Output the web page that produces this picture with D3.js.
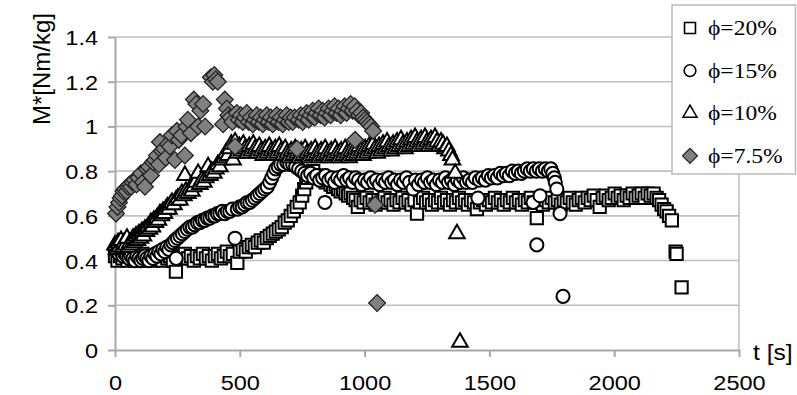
<!DOCTYPE html>
<html>
<head>
<meta charset="utf-8">
<script src="https://cdnjs.cloudflare.com/ajax/libs/d3/7.8.5/d3.min.js"></script>
<style>
  body { margin: 0; background: #fff; }
  svg { display: block; }
</style>
</head>
<body>
<svg id="chart" width="797" height="395"></svg>
<script>
// values: [t (s), M* (Nm/kg)]
const phi20 = [
  [0,0.42],[10,0.40],[20,0.42],[30,0.41],[40,0.43],[50,0.40],[60,0.42],[70,0.41],[80,0.40],[90,0.42],
  [100,0.41],[110,0.43],[120,0.40],[130,0.42],[140,0.41],[150,0.40],[160,0.42],[170,0.41],[180,0.43],[190,0.40],
  [200,0.42],[210,0.41],[220,0.42],[232,0.40],[244,0.35],[256,0.42],[268,0.41],[280,0.43],[292,0.41],[304,0.42],
  [316,0.40],[328,0.42],[340,0.41],[352,0.43],[364,0.41],[376,0.42],[388,0.40],[400,0.42],[412,0.43],[424,0.41],
  [436,0.42],[448,0.44],[460,0.42],[472,0.43],[490,0.39],[500,0.44],[512,0.45],[524,0.44],[536,0.46],[548,0.47],
  [560,0.46],[572,0.48],[584,0.49],[596,0.48],[608,0.50],[620,0.51],[632,0.52],[644,0.53],[656,0.54],[668,0.55],
  [680,0.57],[692,0.58],[704,0.60],[716,0.62],[728,0.64],[740,0.66],[750,0.69],[758,0.72],[766,0.75],[774,0.77],
  [784,0.79],[794,0.80],[804,0.78],[814,0.77],[824,0.78],[834,0.76],[844,0.75],[854,0.76],[864,0.74],[874,0.73],
  [884,0.74],[894,0.72],[904,0.71],[914,0.72],[924,0.70],[934,0.69],[944,0.70],[954,0.68],[964,0.67],[973,0.64],
  [984,0.67],[996,0.66],[1008,0.68],[1020,0.66],[1032,0.67],[1044,0.65],[1056,0.67],[1068,0.66],[1080,0.68],[1092,0.66],
  [1104,0.67],[1116,0.65],[1128,0.67],[1140,0.66],[1152,0.68],[1164,0.66],[1176,0.67],[1188,0.65],[1200,0.67],[1210,0.61],
  [1222,0.66],[1234,0.68],[1246,0.66],[1258,0.67],[1270,0.65],[1282,0.67],[1294,0.66],[1306,0.68],[1318,0.66],[1330,0.67],
  [1342,0.65],[1354,0.67],[1366,0.66],[1378,0.68],[1390,0.66],[1402,0.67],[1414,0.65],[1426,0.67],[1438,0.66],[1450,0.63],
  [1462,0.66],[1474,0.67],[1486,0.65],[1498,0.67],[1510,0.66],[1522,0.68],[1534,0.66],[1546,0.67],[1558,0.65],[1570,0.67],
  [1582,0.66],[1594,0.68],[1606,0.66],[1618,0.67],[1630,0.65],[1642,0.67],[1654,0.66],[1666,0.68],[1678,0.66],[1690,0.59],
  [1702,0.67],[1714,0.65],[1726,0.67],[1738,0.66],[1750,0.68],[1762,0.66],[1774,0.67],[1786,0.65],[1798,0.67],[1810,0.66],
  [1822,0.68],[1834,0.66],[1846,0.65],[1858,0.67],[1870,0.68],[1882,0.66],[1894,0.68],[1906,0.67],[1918,0.69],[1930,0.67],
  [1942,0.64],[1954,0.68],[1966,0.69],[1978,0.67],[1990,0.68],[2002,0.70],[2014,0.68],[2026,0.69],[2038,0.67],[2050,0.69],
  [2062,0.68],[2074,0.70],[2086,0.68],[2098,0.69],[2110,0.70],[2122,0.68],[2134,0.70],[2146,0.69],[2158,0.70],[2170,0.68],
  [2180,0.67],[2190,0.65],[2200,0.63],[2210,0.62],[2220,0.60],[2231,0.58],[2246,0.44],[2250,0.43],[2270,0.28]
];

const phi15 = [
  [0,0.45],[8,0.44],[16,0.43],[24,0.44],[32,0.42],[40,0.43],[48,0.42],[56,0.41],[64,0.42],[72,0.41],
  [80,0.40],[88,0.42],[96,0.41],[104,0.40],[112,0.41],[120,0.42],[128,0.41],[136,0.40],[144,0.42],[152,0.41],
  [160,0.43],[168,0.42],[176,0.44],[184,0.43],[192,0.45],[200,0.44],[208,0.46],[216,0.45],[224,0.47],[232,0.48],
  [240,0.49],[245,0.41],[250,0.50],[260,0.51],[270,0.52],[280,0.53],[290,0.54],[300,0.55],[310,0.55],[320,0.56],
  [330,0.57],[340,0.57],[350,0.58],[360,0.58],[370,0.59],[380,0.59],[390,0.60],[400,0.60],[410,0.61],[420,0.61],
  [430,0.62],[440,0.61],[450,0.62],[460,0.62],[470,0.63],[481,0.50],[490,0.63],[500,0.64],[510,0.64],[520,0.65],
  [530,0.66],[540,0.66],[550,0.67],[560,0.68],[570,0.69],[580,0.70],[590,0.71],[600,0.72],[610,0.73],[620,0.75],
  [628,0.77],[636,0.79],[644,0.81],[654,0.82],[664,0.83],[676,0.83],[688,0.84],[700,0.83],[712,0.83],[724,0.82],
  [736,0.81],[748,0.80],[760,0.79],[772,0.78],[784,0.79],[796,0.77],[808,0.78],[820,0.76],[832,0.77],[841,0.66],
  [844,0.78],[856,0.76],[868,0.77],[880,0.75],[892,0.77],[904,0.76],[916,0.78],[928,0.76],[940,0.77],[952,0.75],
  [964,0.77],[976,0.76],[988,0.74],[1000,0.76],[1012,0.75],[1024,0.77],[1036,0.75],[1048,0.76],[1060,0.74],[1072,0.76],
  [1084,0.75],[1096,0.77],[1108,0.75],[1120,0.76],[1132,0.74],[1144,0.76],[1156,0.75],[1168,0.77],[1180,0.75],[1194,0.72],
  [1204,0.76],[1216,0.74],[1228,0.76],[1240,0.75],[1252,0.77],[1264,0.75],[1276,0.76],[1288,0.74],[1300,0.76],[1312,0.75],
  [1324,0.77],[1336,0.75],[1348,0.76],[1360,0.74],[1372,0.76],[1384,0.75],[1396,0.77],[1408,0.75],[1420,0.76],[1432,0.75],
  [1444,0.77],[1454,0.68],[1460,0.76],[1472,0.77],[1484,0.76],[1496,0.78],[1508,0.77],[1520,0.78],[1532,0.77],[1544,0.79],
  [1556,0.78],[1568,0.79],[1580,0.78],[1592,0.80],[1604,0.79],[1616,0.80],[1628,0.79],[1640,0.80],[1652,0.81],[1664,0.80],
  [1675,0.66],[1676,0.81],[1688,0.80],[1690,0.47],[1700,0.81],[1703,0.69],[1712,0.80],[1724,0.81],[1736,0.80],[1746,0.81],
  [1754,0.79],[1760,0.77],[1764,0.75],[1770,0.72],[1783,0.61],[1795,0.24]
];

const phi10 = [
  [0,0.47],[6,0.45],[12,0.48],[18,0.46],[24,0.49],[30,0.46],[36,0.48],[42,0.47],[48,0.50],[54,0.46],
  [60,0.48],[66,0.47],[72,0.50],[78,0.48],[84,0.51],[90,0.49],[96,0.52],[102,0.50],[108,0.53],[114,0.51],
  [120,0.54],[126,0.53],[132,0.55],[138,0.54],[144,0.57],[150,0.55],[156,0.58],[162,0.57],[168,0.59],[174,0.58],
  [180,0.61],[186,0.60],[192,0.62],[198,0.61],[204,0.63],[210,0.64],[216,0.63],[222,0.65],[228,0.66],[236,0.65],
  [244,0.67],[252,0.68],[260,0.67],[268,0.70],[276,0.69],[280,0.78],[284,0.71],[292,0.70],[300,0.72],[308,0.71],
  [316,0.73],[324,0.75],[333,0.79],[340,0.74],[348,0.76],[356,0.75],[364,0.77],[373,0.82],[380,0.78],[388,0.80],
  [396,0.79],[404,0.81],[412,0.83],[420,0.82],[428,0.85],[436,0.86],[444,0.88],[452,0.87],[460,0.90],[466,0.92],
  [473,0.85],[481,0.93],[490,0.88],[498,0.91],[506,0.89],[514,0.92],[522,0.90],[530,0.88],[538,0.91],[546,0.89],
  [554,0.92],[562,0.90],[570,0.88],[578,0.91],[586,0.89],[594,0.87],[602,0.90],[610,0.88],[618,0.91],[626,0.89],
  [634,0.87],[642,0.90],[650,0.88],[658,0.91],[666,0.89],[674,0.87],[682,0.90],[690,0.88],[698,0.86],[706,0.89],
  [714,0.87],[722,0.90],[730,0.88],[738,0.86],[746,0.89],[754,0.87],[762,0.90],[770,0.88],[778,0.86],[786,0.89],
  [794,0.87],[802,0.90],[810,0.88],[818,0.86],[826,0.89],[834,0.87],[842,0.90],[850,0.88],[858,0.86],[866,0.89],
  [874,0.87],[882,0.90],[890,0.88],[898,0.86],[906,0.89],[914,0.87],[922,0.90],[930,0.88],[938,0.86],[946,0.89],
  [954,0.87],[962,0.90],[970,0.88],[978,0.91],[986,0.89],[994,0.87],[1002,0.90],[1010,0.88],[1018,0.91],[1026,0.89],
  [1034,0.92],[1042,0.90],[1050,0.88],[1058,0.91],[1066,0.89],[1074,0.92],[1082,0.90],[1090,0.93],[1098,0.91],[1106,0.89],
  [1114,0.92],[1122,0.90],[1130,0.93],[1138,0.91],[1146,0.94],[1154,0.92],[1162,0.90],[1170,0.93],[1178,0.91],[1186,0.94],
  [1194,0.92],[1202,0.95],[1210,0.93],[1218,0.91],[1226,0.94],[1234,0.92],[1242,0.95],[1250,0.93],[1258,0.91],[1266,0.94],
  [1274,0.92],[1282,0.95],[1290,0.93],[1298,0.91],[1306,0.93],[1314,0.92],[1322,0.90],[1330,0.91],[1338,0.89],[1346,0.87],
  [1352,0.85],[1363,0.79],[1370,0.52],[1382,0.035]
];

const phi75 = [
  [4,0.61],[10,0.64],[16,0.66],[22,0.68],[28,0.69],[34,0.71],[40,0.72],[46,0.71],[52,0.73],[58,0.74],
  [64,0.73],[70,0.75],[78,0.76],[86,0.74],[94,0.77],[104,0.79],[112,0.75],[120,0.73],[128,0.81],[136,0.82],
  [144,0.78],[152,0.84],[160,0.85],[168,0.87],[176,0.83],[180,0.93],[188,0.89],[196,0.90],[204,0.86],[212,0.92],
  [220,0.91],[228,0.96],[240,0.85],[248,0.98],[256,0.94],[266,0.96],[280,0.87],[286,1.00],[292,1.03],[304,0.97],
  [316,1.12],[326,1.10],[333,1.00],[342,1.07],[353,1.10],[361,1.00],[384,1.22],[392,1.20],[398,1.23],[404,1.21],
  [412,1.20],[433,1.01],[440,1.12],[448,1.08],[454,1.05],[462,1.04],[470,1.02],[481,0.91],[488,1.06],[496,1.03],
  [504,1.05],[512,1.02],[520,1.04],[528,1.06],[536,1.02],[544,1.04],[552,1.01],[560,1.03],[568,1.05],[576,1.02],
  [584,1.04],[592,1.01],[600,1.03],[608,1.05],[616,1.02],[624,1.04],[632,1.01],[640,1.03],[648,1.05],[656,1.02],
  [664,1.04],[672,1.01],[680,1.03],[688,1.05],[696,1.02],[704,1.04],[712,1.02],[720,1.04],[729,0.90],[736,1.03],
  [744,1.05],[752,1.02],[760,1.04],[768,1.06],[776,1.03],[784,1.05],[792,1.07],[800,1.04],[808,1.06],[816,1.08],
  [824,1.05],[832,1.07],[840,1.04],[848,1.06],[856,1.08],[864,1.05],[872,1.07],[880,1.09],[888,1.06],[896,1.08],
  [904,1.05],[912,1.07],[920,1.09],[928,1.06],[936,1.08],[944,1.10],[952,1.07],[960,1.09],[962,0.94],[970,1.07],
  [978,1.05],[986,1.06],[994,1.04],[1002,1.03],[1010,1.02],[1018,1.01],[1026,1.00],[1034,0.98],[1042,0.65],[1050,0.21]
];

const seriesNames = ["\u03d5=20%", "\u03d5=15%", "\u03d5=10%", "\u03d5=7.5%"];
const xTicks = [0, 500, 1000, 1500, 2000, 2500];
const yTicks = [0, 0.2, 0.4, 0.6, 0.8, 1, 1.2, 1.4];

const svg = d3.select("#chart");
const plotL = 115, plotR = 739, plotT = 37, plotB = 350;
const sx = 1.12; // the source picture is stretched sideways

const x = d3.scaleLinear().domain([0, 2500]).range([plotL, plotR]);
const y = d3.scaleLinear().domain([0, 1.4]).range([plotB, plotT]);

// grid
svg.append("g")
  .selectAll("line")
  .data(yTicks.slice(1))
  .join("line")
  .attr("x1", plotL).attr("x2", plotR)
  .attr("y1", d => y(d)).attr("y2", d => y(d))
  .attr("stroke", "#c0c0c0")
  .attr("stroke-width", 1.6);
svg.append("line")
  .attr("x1", plotR).attr("x2", plotR).attr("y1", plotT).attr("y2", plotB)
  .attr("stroke", "#c0c0c0").attr("stroke-width", 1.6);

// axes
const fontSans = "'Liberation Sans', Arial, sans-serif";
const xAxis = svg.append("g")
  .attr("transform", `translate(0,${plotB})`)
  .call(d3.axisBottom(x).tickValues(xTicks).tickSize(7).tickPadding(18).tickSizeOuter(0).tickFormat(d3.format("d")));
const yAxis = svg.append("g")
  .attr("transform", `translate(${plotL},0)`)
  .call(d3.axisLeft(y).tickValues(yTicks).tickSize(7).tickPadding(10).tickSizeOuter(0).tickFormat(d => String(d)));

[xAxis, yAxis].forEach(a => {
  a.select(".domain").attr("stroke", "#a8a8a8").attr("stroke-width", 2);
  a.selectAll(".tick line").attr("stroke", "#a8a8a8").attr("stroke-width", 2);
  a.selectAll(".tick text")
    .attr("fill", "#000")
    .attr("font-size", 21)
    .attr("font-family", fontSans);
});
xAxis.selectAll(".tick text").attr("transform", `scale(${sx},1)`);
yAxis.selectAll(".tick text").attr("x", -17 / sx).attr("dy", "0.36em").attr("transform", `scale(${sx},1)`);

// axis titles
svg.append("text")
  .attr("transform", "translate(50,69) rotate(-90)")
  .attr("text-anchor", "middle")
  .attr("font-family", fontSans)
  .attr("font-size", 24)
  .text("M*[Nm/kg]");
svg.append("text")
  .attr("transform", `translate(753,360) scale(${sx},1)`)
  .attr("font-family", fontSans)
  .attr("font-size", 22)
  .text("t [s]");

// markers, drawn in series order so the later ones sit on top
const markers = [
  { data: phi20, type: d3.symbolSquare, size: 150, rot: 0, fill: "#fff" },
  { data: phi15, type: d3.symbolCircle, size: 135, rot: 0, fill: "#fff" },
  { data: phi10, type: d3.symbolTriangle, size: 105, rot: 0, fill: "#fff" },
  { data: phi75, type: d3.symbolSquare, size: 140, rot: 45, fill: "#808080" }
];

markers.forEach(m => {
  const path = d3.symbol().type(m.type).size(m.size)();
  svg.append("g")
    .selectAll("path")
    .data(m.data)
    .join("path")
    .attr("d", path)
    .attr("transform", d => `translate(${x(d[0])},${y(d[1])}) rotate(${m.rot})`)
    .attr("fill", m.fill)
    .attr("stroke", m.fill === "#fff" ? "#000" : "#222")
    .attr("stroke-width", m.fill === "#fff" ? 2 : 1.3);
});

// legend
const lg = svg.append("g");
lg.append("rect")
  .attr("x", 672).attr("y", 5).attr("width", 123.5).attr("height", 169)
  .attr("fill", "#fff").attr("stroke", "#bfbfbf").attr("stroke-width", 1.6);
const item = lg.selectAll("g.item")
  .data(markers)
  .join("g")
  .attr("class", "item")
  .attr("transform", (d, i) => `translate(690,${28 + i * 42.6})`);
item.append("path")
  .attr("d", d => d3.symbol().type(d.type).size(d.size * 0.8)())
  .attr("transform", d => `rotate(${d.rot})`)
  .attr("fill", d => d.fill)
  .attr("stroke", d => d.fill === "#fff" ? "#000" : "#222")
  .attr("stroke-width", d => d.fill === "#fff" ? 1.6 : 1.2);
item.append("text")
  .attr("transform", `translate(18,7) scale(${sx},1)`)
  .attr("font-family", "'Liberation Serif', 'Times New Roman', serif")
  .attr("font-size", 21)
  .text((d, i) => seriesNames[i]);
</script>
</body>
</html>
